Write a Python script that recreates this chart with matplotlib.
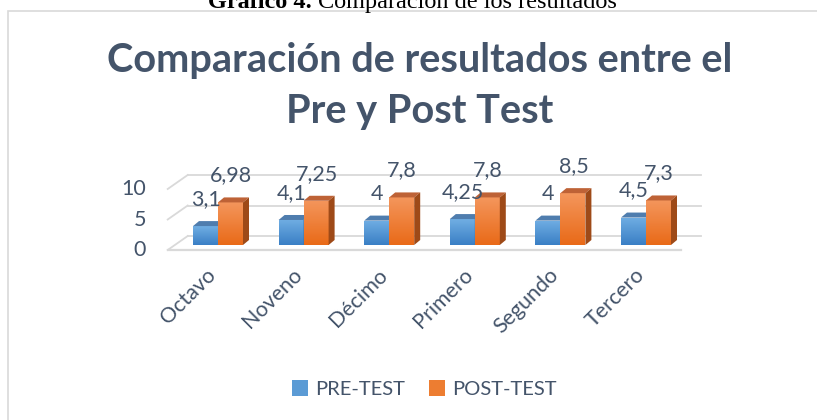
import matplotlib
matplotlib.use("Agg")
import matplotlib.pyplot as plt
import numpy as np
from matplotlib.patches import Polygon, Rectangle, Patch
from matplotlib.colors import LinearSegmentedColormap

# ---- data ----
categories = ["Octavo", "Noveno", "Décimo", "Primero", "Segundo", "Tercero"]
pre_test = [3.1, 4.1, 4, 4.25, 4, 4.5]
post_test = [6.98, 7.25, 7.8, 7.8, 8.5, 7.3]
pre_labels = ["3,1", "4,1", "4", "4,25", "4", "4,5"]
post_labels = ["6,98", "7,25", "7,8", "7,8", "8,5", "7,3"]
y_ticks = [0, 5, 10]
series_names = ["PRE-TEST", "POST-TEST"]
title_lines = ["Comparación de resultados entre el", "Pre y Post Test"]

W, H = 817, 420
fig = plt.figure(figsize=(W / 100, H / 100), dpi=100)

TXT = "#44546A"
FONT = "Lato"

# chart border
fig.patches.append(Rectangle((8 / W, -0.1), 1.2, 1 - 11 / H + 0.1, transform=fig.transFigure,
                             fill=False, edgecolor="#D9D9D9", linewidth=1.2))

# caption (partially clipped at top, as in the source)
fig.text(312 / W, 1 - 8 / H, "Gráfico 4.", family="Liberation Serif", weight="bold",
         fontsize=17.5, ha="right", va="baseline", color="black")
fig.text(318 / W, 1 - 8 / H, "Comparación de los resultados", family="Liberation Serif",
         fontsize=17.5, ha="left", va="baseline", color="black")

# title
fig.text(420 / W, 1 - 72 / H, title_lines[0], family=FONT, weight="bold", fontsize=28.6,
         color=TXT, ha="center", va="baseline")
fig.text(420 / W, 1 - 123 / H, title_lines[1], family=FONT, weight="bold", fontsize=28.6,
         color=TXT, ha="center", va="baseline")

# axes (front plane of bars)
px_per_y = 6.1
ax_left, ax_right, ax_base = 175.2, 688.8, 245
ax = fig.add_axes([ax_left / W, (H - ax_base) / H, (ax_right - ax_left) / W, 10 * px_per_y / H])
n = len(categories)
ax.set_xlim(-0.5, n - 0.5)
ax.set_ylim(0, 10)
ax.axis("off")

px_per_x = (ax_right - ax_left) / n
def dxp(p):
    return p / px_per_x
def dyp(p):
    return p / px_per_y

LBL = 15.5

# walls / floor / gridlines
grid_c = "#D9D9D9"
back_dx, back_dy = dxp(12.5), dyp(9)
front_dx, front_dy = dxp(-7.5), dyp(-5)
x_lo, x_hi = -0.5, n - 0.5
for v in y_ticks:
    ax.plot([x_lo + back_dx, x_hi + back_dx], [v + back_dy, v + back_dy], color=grid_c,
            lw=1.3, clip_on=False, zorder=1)
    ax.plot([x_lo + front_dx, x_lo + back_dx], [v + front_dy, v + back_dy], color=grid_c,
            lw=1.3, clip_on=False, zorder=1)
    ax.text(x_lo + dxp(-29), v + front_dy, str(v), ha="right", va="center", fontsize=LBL,
            family=FONT, color=TXT)
ax.plot([x_lo + front_dx, x_hi + front_dx], [front_dy, front_dy], color=grid_c, lw=1.6,
        clip_on=False, zorder=1)

# bars
bw = 25 / px_per_x
depth_dx, depth_dy = dxp(6), dyp(5)
styles = [
    dict(top="#70AEE3", bottom="#3A7FC5", cap="#4F7DAE", side="#3C6E9F"),
    dict(top="#F4965C", bottom="#E96A18", cap="#BE6236", side="#9E4A18"),
]
x = np.arange(n)
for i in range(n):
    for s, (vals, labs) in enumerate([(pre_test, pre_labels), (post_test, post_labels)]):
        st = styles[s]
        xc = x[i] + (s - 0.5) * bw
        v = vals[i]
        bar = ax.bar(xc, v, width=bw, color=st["bottom"], linewidth=0, zorder=3 + i * 2 + s)[0]
        cmap = LinearSegmentedColormap.from_list("g", [st["bottom"], st["top"]])
        x0, x1 = xc - bw / 2, xc + bw / 2
        im = ax.imshow(np.linspace(0, 1, 64).reshape(-1, 1), extent=[x0, x1, 0, v],
                       origin="lower", aspect="auto", cmap=cmap, zorder=3 + i * 2 + s + 0.1)
        im.set_clip_path(bar)
        ax.add_patch(Polygon([(x0, v), (x1, v), (x1 + depth_dx, v + depth_dy),
                              (x0 + depth_dx, v + depth_dy)], closed=True, facecolor=st["cap"],
                             edgecolor="none", zorder=3 + i * 2 + s + 0.2, clip_on=False))
        ax.add_patch(Polygon([(x1, 0), (x1, v), (x1 + depth_dx, v + depth_dy),
                              (x1 + depth_dx, depth_dy)], closed=True, facecolor=st["side"],
                             edgecolor="none", zorder=3 + i * 2 + s + 0.2, clip_on=False))
        ax.text(xc + dxp(0.5), v + dyp(27), labs[i], ha="center", va="center", fontsize=LBL,
                family=FONT, color=TXT, zorder=50, clip_on=False)
    ax.text(x[i] - dxp(5), dyp(-27), categories[i], rotation=45, rotation_mode="anchor",
            ha="right", va="center", fontsize=LBL, family=FONT, color=TXT, clip_on=False)

ax.set_xlim(-0.5, n - 0.5)
ax.set_ylim(0, 10)

handles = [Patch(facecolor="#5B9BD5", edgecolor="none"), Patch(facecolor="#ED7D31", edgecolor="none")]
fig.legend(handles, series_names, loc="center", bbox_to_anchor=(424 / W, 1 - 389 / H), ncol=2,
           frameon=False, handlelength=0.8, handleheight=0.8, handletextpad=0.35,
           columnspacing=1.2, prop=dict(family=FONT, size=14.5), labelcolor=TXT)

fig.savefig("out.png", dpi=100, facecolor="white")
